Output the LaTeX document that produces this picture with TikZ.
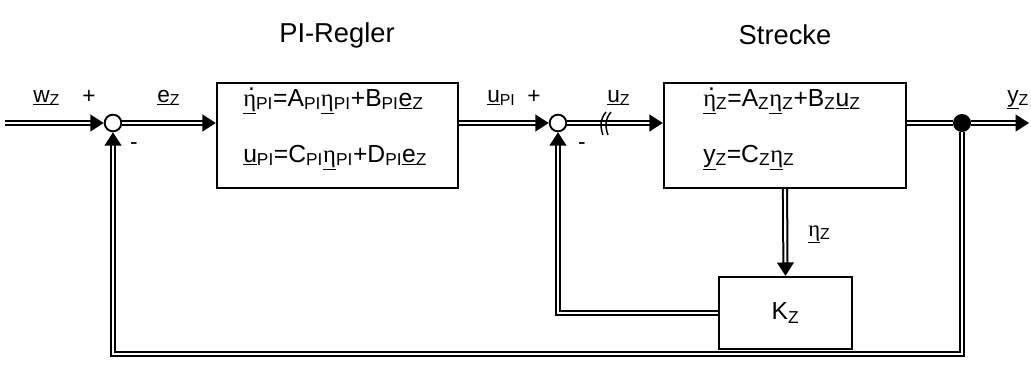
\documentclass[tikz,border=0pt]{standalone}
\usepackage{fontspec}
\setmainfont{Liberation Sans}
\newfontfamily\etaf{Liberation Serif}
\usetikzlibrary{arrows.meta}
\newcommand{\vE}{\underline{\etaf η}}
\newcommand{\dE}{\rlap{\hspace{0.2em}\raisebox{0.62em}{.}}\vE}
\newcommand{\sbs}[1]{\textsubscript{#1}}
\newcommand{\ul}[1]{\underline{#1}}
\begin{document}
\begin{tikzpicture}[x=0.75pt,y=-0.75pt,
  sig/.style={double, line width=1.5pt, double distance=1.6pt},
  arr/.style={sig, -{Triangle[length=10pt,width=12.5pt]}},
  blk/.style={draw, line width=1.8pt, rectangle, inner sep=0pt},
  sumc/.style={circle, draw, fill=white, line width=1.4pt, minimum size=12.5pt, inner sep=0pt},
  lab/.style={font=\fontsize{17}{20}\selectfont, inner sep=0pt},
  eq/.style={font=\fontsize{18.5}{22}\selectfont, inner sep=0pt, anchor=base west},
  title/.style={font=\fontsize{20.5}{24}\selectfont, inner sep=0pt}
]
\useasboundingbox (0,0) rectangle (1031,380);

% blocks
\node[blk, minimum width=180.75pt, minimum height=78.75pt] (pi) at (337.5,135.5) {};
\node[blk, minimum width=181.5pt, minimum height=78.75pt] (st) at (785,135.5) {};
\node[blk, minimum width=99.75pt, minimum height=54pt, font=\fontsize{18.5}{22}\selectfont] (k) at (785.5,313) {K\sbs{Z}};

% titles
\node[title] (tpi) at (337,35) {PI-Regler};
\node[title] (tst) at (785,35) {Strecke};

% equations
\node[eq] (e1) at (243,106) {\dE\sbs{PI}=A\sbs{PI}\vE\sbs{PI}+B\sbs{PI}\ul{e}\sbs{Z}};
\node[eq] (e2) at (243,162) {\ul{u}\sbs{PI}=C\sbs{PI}\vE\sbs{PI}+D\sbs{PI}\ul{e}\sbs{Z}};
\node[eq] (e3) at (703,106) {\dE\sbs{Z}=A\sbs{Z}\vE\sbs{Z}+B\sbs{Z}\ul{u}\sbs{Z}};
\node[eq] (e4) at (703,162) {\ul{y}\sbs{Z}=C\sbs{Z}\vE\sbs{Z}};

% summing points and junction
\node[sumc] (s1) at (113,123) {};
\node[sumc] (s2) at (558,123) {};
\node[circle, fill=black, minimum size=13.5pt, inner sep=0pt] (j) at (962,123) {};
\coordinate (in) at (5,123);
\coordinate (out) at (1029,123);
\coordinate (b1) at (962,354);
\coordinate (b2) at (113,354);
\coordinate (c1) at (558,313);

% connectors
\draw[arr] (in) -- (s1.west);
\draw[arr] (s1.east) -- (s1.east -| pi.west);
\draw[arr] (s1 -| pi.east) -- (s2.west);
\draw[arr] (s2.east) -- (s2.east -| st.west);
\draw[sig] (j -| st.east) -- (j.west);
\draw[arr] (j.east) -- (out);
\draw[arr] (j.south) -- (b1) -- (b2) -- (s1.south);
\draw[arr] (st.south) -- (k.north);
\draw[arr] (k.west) -- (c1) -- (s2.south);

% break marks on u_Z
\draw[line width=1.1pt] (606,112) .. controls (600,119) and (600,127) .. (603,135);
\draw[line width=1.1pt] (611,112) .. controls (605,119) and (605,127) .. (608,135);

% labels
\node[lab, anchor=base west] (lw) at (33,102) {\ul{w}\sbs{Z}};
\node[lab] (p1) at (89,97) {+};
\node[lab, anchor=base west] (le) at (157,102) {\ul{e}\sbs{Z}};
\node[lab] (m1) at (134,146) {-};
\node[lab, anchor=base west] (lu) at (487,102) {\ul{u}\sbs{PI}};
\node[lab] (p2) at (534,97) {+};
\node[lab, anchor=base west] (luz) at (607,102) {\ul{u}\sbs{Z}};
\node[lab] (m2) at (582,146) {-};
\node[lab, anchor=base west] (ly) at (1007,102) {\ul{y}\sbs{Z}};
\node[lab, anchor=base west] (leta) at (808,236) {\vE\sbs{Z}};
\end{tikzpicture}
\end{document}
